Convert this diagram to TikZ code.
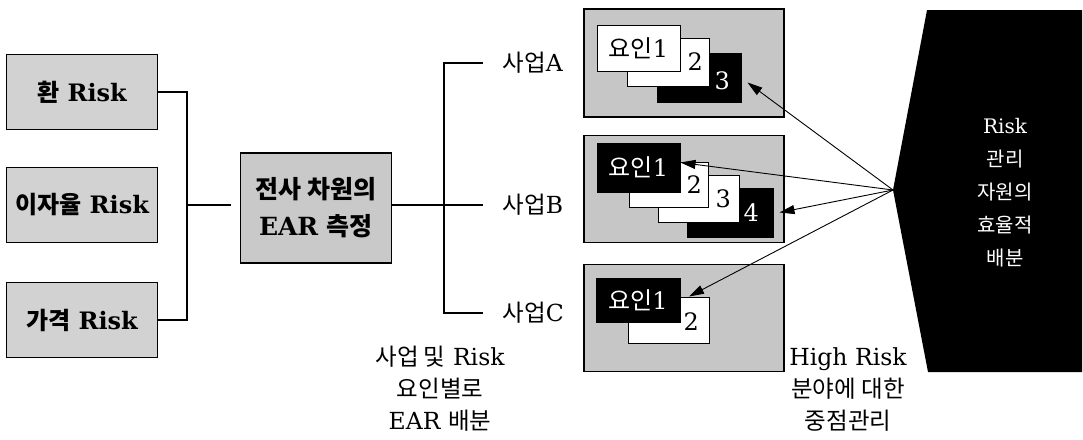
\documentclass[tikz,border=0pt]{standalone}
\usepackage{fontspec}
\setmainfont{DejaVu Serif}
\newfontfamily\kr{Noto Sans CJK KR}
\usetikzlibrary{positioning, arrows.meta, calc}

\newcommand{\ko}[1]{{\kr #1}}

\begin{document}
\begin{tikzpicture}[
    x=1pt, y=-1pt,
    every node/.style={font=\fontsize{23.5}{32}\selectfont},
    riskbox/.style={rectangle, draw, line width=1.4pt, fill=gray!35, minimum width=151pt, minimum height=75pt, font=\fontsize{24}{26}\selectfont\bfseries},
    earbox/.style={rectangle, draw, line width=1.4pt, fill=gray!42, minimum width=151pt, minimum height=110pt, align=center, font=\fontsize{25}{37}\selectfont\bfseries},
    panel/.style={rectangle, draw, line width=1.4pt, fill=gray!45, minimum width=200pt},
    wbox/.style={rectangle, draw, line width=1pt, fill=white, inner sep=0pt, font=\fontsize{24}{26}\selectfont},
    kbox/.style={rectangle, draw, line width=1pt, fill=black, text=white, inner sep=0pt, font=\fontsize{24}{26}\selectfont},
    numtxt/.style={font=\fontsize{24}{26}\selectfont},
    link/.style={line width=1.1pt},
    hl/.style={-{Triangle[length=15pt, width=9pt]}, line width=0.9pt},
]
\useasboundingbox (0,0) rectangle (1083,439);

% Risk sources
\node[riskbox] (fx) at (82,92) {\ko{환} Risk};
\node[riskbox] (ir) at (82,205) {\ko{이자율} Risk};
\node[riskbox] (px) at (82,320) {\ko{가격} Risk};

% firm wide EAR
\node[earbox] (ear) at (316,208) {\ko{전사 차원의}\\EAR \ko{측정}};

\coordinate (lj) at (187,205);
\coordinate (rj) at (444,205);

\draw[link] (fx.east) -| (lj) |- (px.east);
\draw[link] (lj) -- ([xshift=-9pt]lj -| ear.west);
\draw[link] (lj -| ear.east) -- (rj);

% businesses
\node[anchor=west] (bizA) at (499,63) {\ko{사업}A};
\node[anchor=west] (bizB) at (499,205) {\ko{사업}B};
\node[anchor=west] (bizC) at (499,313) {\ko{사업}C};

\draw[link] ([xshift=-16pt]bizA.west) -| (rj) |- ([xshift=-16pt]bizC.west);
\draw[link] (rj) -- ([xshift=-16pt]bizB.west);

\node[align=center] (bizlbl) at (440,389) {\ko{사업 및} Risk\\\ko{요인별로}\\EAR \ko{배분}};

% panels with risk factors
\node[panel, minimum height=108pt] (pa) at (684,63) {};
\node[panel, minimum height=107pt] (pb) at (684,189) {};
\node[panel, minimum height=107pt] (pc) at (684,318) {};

% business A
\node[kbox, minimum width=84pt, minimum height=49pt] (a3) at (699,77.5) {};
\node[wbox, minimum width=82pt, minimum height=48pt] (a2) at (668,62) {};
\node[wbox, minimum width=83pt, minimum height=46pt] (a1) at (638.5,48) {\ko{요인}1};
\node[numtxt, left=3pt of a2.east] {2};
\node[numtxt, text=white, left=8pt of a3.east, yshift=-3pt] {3};

% business B
\node[kbox, minimum width=86pt, minimum height=49pt] (b4) at (730,212.5) {};
\node[wbox, minimum width=81pt, minimum height=47pt] (b3) at (698.5,198.5) {};
\node[wbox, minimum width=79pt, minimum height=45pt] (b2) at (668.5,184.5) {};
\node[kbox, minimum width=83pt, minimum height=49pt] (b1) at (638.5,167.5) {\ko{요인}1};
\node[numtxt, left=3pt of b2.east] {2};
\node[numtxt, left=5pt of b3.east] {3};
\node[numtxt, text=white, left=11pt of b4.east] {4};

% business C
\node[wbox, minimum width=81pt, minimum height=46pt] (c2) at (668.5,320) {};
\node[kbox, minimum width=84pt, minimum height=44pt] (c1) at (638,300) {\ko{요인}1};
\node[numtxt, left=7pt of c2.east, yshift=-2pt] {2};

\node[align=center] (hrlbl) at (848,389) {High Risk\\\ko{분야에 대한}\\\ko{중점관리}};

% resource allocation
\fill (927,10) -- (1082,10) -- (1082,372) -- (928,372) -- (893,190) -- cycle;
\coordinate (tip) at (893,190);
\node[align=center, text=white, font=\fontsize{20}{33}\selectfont] (alloc) at (1005,193) {Risk\\\ko{관리}\\\ko{자원의}\\\ko{효율적}\\\ko{배분}};

\draw[hl] (tip) -- ([xshift=6pt, yshift=-5pt]a3.east);
\draw[hl] (tip) -- ([yshift=5pt]b1.east);
\draw[hl] (tip) -- ([xshift=6pt]b4.east);
\draw[hl] (tip) -- ($(c2.north west)!0.75!(c2.north east)$);

\end{tikzpicture}
\end{document}
